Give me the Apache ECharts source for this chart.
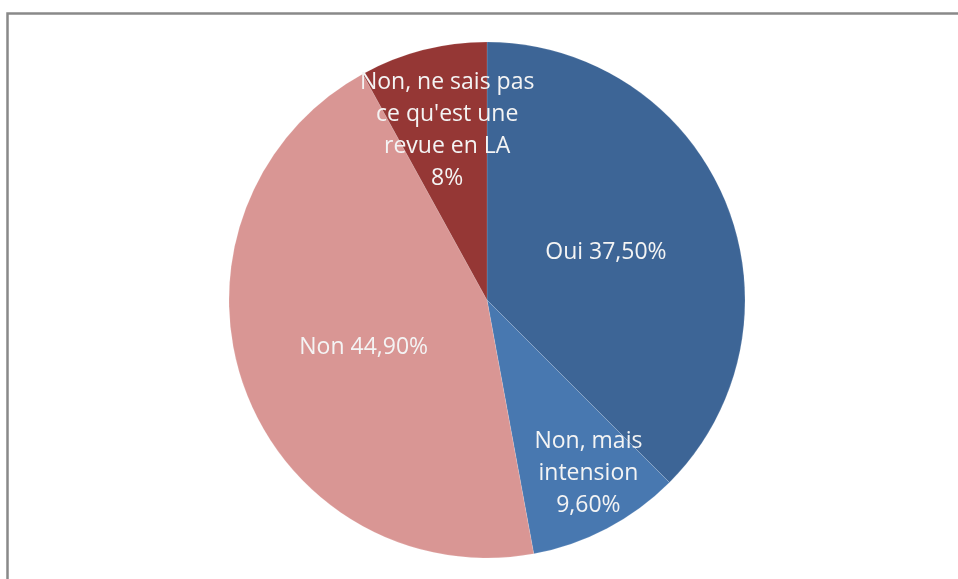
<!DOCTYPE html>
<html>
<head>
<meta charset="utf-8">
<script src="https://cdn.jsdelivr.net/npm/echarts@6/dist/echarts.min.js"></script>
<style>
  html, body { margin: 0; padding: 0; background: #ffffff; }
  #chart { width: 958px; height: 579px; }
</style>
</head>
<body>
<div id="chart"></div>
<script>
// Survey answers, in clockwise order from 12 o'clock
const categories = ['Oui', 'Non, mais\nintension', 'Non', 'Non, ne sais pas\nce qu\'est une\nrevue en LA'];
const values = [37.5, 9.6, 44.9, 8];
const valueTexts = ['37,50%', '9,60%', '44,90%', '8%'];
const sliceColors = ['#3d6596', '#4878b0', '#d99694', '#953735'];
const labelSeparators = [' ', '\n', ' ', '\n'];
const labelOffsets = [[-3, 3], [40, 57], [1, 3], [-7, -42]];

const chart = echarts.init(document.getElementById('chart'), null, { renderer: 'canvas' });

const data = categories.map((name, i) => ({
  name,
  value: values[i],
  itemStyle: { color: sliceColors[i] },
  label: {
    formatter: name + labelSeparators[i] + valueTexts[i],
    offset: labelOffsets[i]
  }
}));

chart.setOption({
  animation: false,
  backgroundColor: '#ffffff',
  graphic: [{
    type: 'rect',
    shape: { x: 7.5, y: 13.5, width: 1200, height: 1200 },
    style: { fill: 'none', stroke: '#898989', lineWidth: 2.5 },
    silent: true
  }],
  series: [{
    type: 'pie',
    center: [487, 300],
    radius: [0, 258],
    startAngle: 90,
    clockwise: true,
    avoidLabelOverlap: false,
    itemStyle: { borderColor: 'rgba(255,255,255,0.25)', borderWidth: 0.5 },
    label: {
      show: true,
      position: 'inside',
      color: '#f4f4f4',
      fontFamily: 'Open Sans',
      fontSize: 23,
      lineHeight: 32,
      align: 'center'
    },
    labelLine: { show: false },
    emphasis: { disabled: true },
    data
  }]
});
</script>
</body>
</html>
